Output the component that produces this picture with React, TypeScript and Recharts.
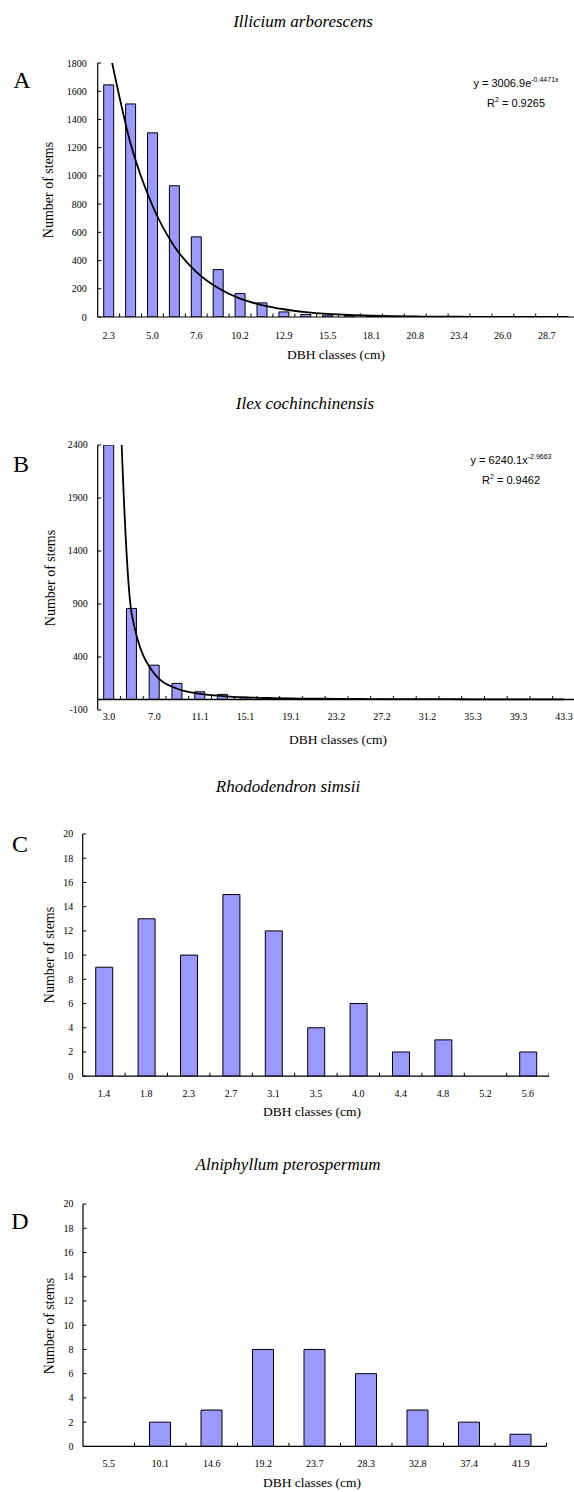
import React from 'react';
import { ComposedChart, Bar, Line, XAxis, YAxis, ReferenceLine } from 'recharts';

const serif = '"Liberation Serif", "Times New Roman", serif';
const sans = '"Liberation Sans", Arial, sans-serif';

// A - Illicium arborescens
const classesA = ['2.3', '3.6', '5.0', '6.3', '7.6', '8.9', '10.2', '11.5', '12.9', '14.2', '15.5', '16.8', '18.1', '19.4', '20.8', '22.1', '23.4', '24.7', '26.0', '27.3', '28.7', '30.0'];
const stemsA = [1645, 1510, 1305, 930, 568, 336, 166, 100, 36, 18, 14, 10, 5, 3, 2, 1, 0, 0, 0, 0, 0, 0];
const trendA = [1920, 1230, 790, 500, 320, 205, 130, 85, 55, 35, 22, 14, 9, 6, 4, 2, 2, 1, 1, 0, 0, 0];
const yTicksA = [0, 200, 400, 600, 800, 1000, 1200, 1400, 1600, 1800];

// B - Ilex cochinchinensis
const classesB = ['3.0', '5.0', '7.0', '9.1', '11.1', '13.1', '15.1', '17.1', '19.1', '21.2', '23.2', '25.2', '27.2', '29.2', '31.2', '33.3', '35.3', '37.3', '39.3', '41.3', '43.3'];
const stemsB = [2400, 858, 323, 151, 72, 47, 20, 12, 8, 4, 2, 1, 1, 0, 0, 0, 0, 0, 0, 0, 0];
const trendB = [6240, 800, 240, 100, 53, 31, 19, 13, 9, 7, 5, 4, 3, 2, 2, 2, 1, 1, 1, 1, 1];
const yTicksB = [-100, 400, 900, 1400, 1900, 2400];

// C - Rhododendron simsii
const classesC = ['1.4', '1.8', '2.3', '2.7', '3.1', '3.5', '4.0', '4.4', '4.8', '5.2', '5.6'];
const stemsC = [9, 13, 10, 15, 12, 4, 6, 2, 3, 0, 2];

// D - Alniphyllum pterospermum
const classesD = ['5.5', '10.1', '14.6', '19.2', '23.7', '28.3', '32.8', '37.4', '41.9'];
const stemsD = [0, 2, 3, 8, 8, 6, 3, 2, 1];

const yTicksCD = [0, 2, 4, 6, 8, 10, 12, 14, 16, 18, 20];

type PanelProps = {
  classes: string[];
  stems: number[];
  trend?: number[];
  top: number;
  left: number;
  plotW: number;
  plotH: number;
  yDomain: [number, number];
  yTicks: number[];
  barSize: number;
  labelEvery: number;
  labelDy: number;
  yGap: number;
  zeroLine?: boolean;
};

function Panel(props: PanelProps) {
  const { classes, stems, trend, top, left, plotW, plotH, yDomain, yTicks, barSize, labelEvery, labelDy, yGap, zeroLine } = props;
  const data = classes.map((c, i) => ({ cls: c, stems: stems[i], trend: trend ? trend[i] : undefined }));
  const band = plotW / classes.length;
  const padTop = 10;
  const xH = 40;
  // B has its category axis on the zero line, above the bottom of the value axis
  const zeroOff = zeroLine ? (plotH * (0 - yDomain[0])) / (yDomain[1] - yDomain[0]) : 0;

  const xTick = (p: any) => {
    const { x, y, payload, index } = p;
    const ty = y - zeroOff;
    return (
      <g>
        <line x1={x + band / 2} x2={x + band / 2} y1={ty} y2={ty - 3.5} stroke="#000" strokeWidth={1} />
        {index % labelEvery === 0 && (
          <text x={x} y={y + labelDy} textAnchor="middle" fontSize={10} fontFamily={serif} fill="#000">
            {payload.value}
          </text>
        )}
      </g>
    );
  };

  const yTick = (p: any) => {
    const { x, y, payload } = p;
    return (
      <g>
        <line x1={x} x2={x + 3.5} y1={y} y2={y} stroke="#000" strokeWidth={1} />
        <text x={x - yGap} y={y} dy="0.35em" textAnchor="end" fontSize={10} fontFamily={serif} fill="#000">
          {payload.value}
        </text>
      </g>
    );
  };

  return (
    <div style={{ position: 'absolute', left: 0, top: top - padTop }}>
      <ComposedChart
        width={left + plotW}
        height={padTop + plotH + xH}
        data={data}
        margin={{ top: padTop, right: 0, bottom: 0, left: 0 }}
      >
        <XAxis
          dataKey="cls"
          interval={0}
          height={xH}
          axisLine={zeroLine ? false : { stroke: '#000', strokeWidth: 1.2 }}
          tickLine={false}
          tickSize={0}
          tickMargin={0}
          tick={xTick}
        />
        <YAxis
          width={left}
          type="number"
          domain={yDomain}
          ticks={yTicks}
          allowDataOverflow
          axisLine={{ stroke: '#000', strokeWidth: 1.2 }}
          tickLine={false}
          tickSize={0}
          tickMargin={0}
          tick={yTick}
        />
        {zeroLine && <ReferenceLine y={0} stroke="#000" strokeWidth={1.5} />}
        <Bar dataKey="stems" fill="#9999ff" stroke="#000" strokeWidth={1} barSize={barSize} isAnimationActive={false} />
        {trend && (
          <Line
            dataKey="trend"
            type="monotone"
            stroke="#000"
            strokeWidth={1.8}
            dot={false}
            activeDot={false}
            isAnimationActive={false}
          />
        )}
      </ComposedChart>
    </div>
  );
}

const abs = (cx: number, cy: number, extra: React.CSSProperties = {}): React.CSSProperties => ({
  position: 'absolute',
  left: cx,
  top: cy,
  transform: 'translate(-50%, -50%)',
  whiteSpace: 'nowrap',
  lineHeight: 1,
  ...extra,
});

function Title({ text, cx, cy }: { text: string; cx: number; cy: number }) {
  return <div style={abs(cx, cy, { fontFamily: serif, fontStyle: 'italic', fontSize: 17 })}>{text}</div>;
}

function Letter({ text, cx, cy }: { text: string; cx: number; cy: number }) {
  return <div style={abs(cx, cy, { fontFamily: serif, fontSize: 24 })}>{text}</div>;
}

function YLabel({ cx, cy }: { cx: number; cy: number }) {
  return (
    <div style={abs(cx, cy, { fontFamily: serif, fontSize: 14, transform: 'translate(-50%, -50%) rotate(-90deg)' })}>
      Number of stems
    </div>
  );
}

function XLabel({ cx, cy }: { cx: number; cy: number }) {
  return <div style={abs(cx, cy, { fontFamily: serif, fontSize: 13.5 })}>DBH classes (cm)</div>;
}

function Equation({ main, sup, r2, cx, cy }: { main: string; sup: string; r2: string; cx: number; cy: number }) {
  return (
    <>
      <div style={abs(cx, cy, { fontFamily: sans, fontSize: 11 })}>
        {main}
        <span style={{ fontSize: 7, verticalAlign: 'super', lineHeight: 0 }}>{sup}</span>
      </div>
      <div style={abs(cx, cy + 20, { fontFamily: sans, fontSize: 11 })}>
        R<span style={{ fontSize: 7, verticalAlign: 'super', lineHeight: 0 }}>2</span> = {r2}
      </div>
    </>
  );
}

export default function App() {
  return (
    <div
      style={{
        position: 'absolute',
        left: 0,
        top: 0,
        width: 574,
        height: 1492,
        overflow: 'hidden',
        background: '#fff',
      }}
    >
      <Title text="Illicium arborescens" cx={303} cy={21} />
      <Letter text="A" cx={22} cy={80} />
      <YLabel cx={49} cy={190} />
      <Panel
        classes={classesA}
        stems={stemsA}
        trend={trendA}
        top={62.7}
        left={97.7}
        plotW={22 * 21.9}
        plotH={254}
        yDomain={[0, 1800]}
        yTicks={yTicksA}
        barSize={10}
        labelEvery={2}
        labelDy={22}
        yGap={11}
      />
      <Equation main="y = 3006.9e" sup="-0.4471x" r2="0.9265" cx={516} cy={83} />
      <XLabel cx={336} cy={355} />

      <Title text="Ilex cochinchinensis" cx={305} cy={403} />
      <Letter text="B" cx={21} cy={464} />
      <YLabel cx={51} cy={578} />
      <Panel
        classes={classesB}
        stems={stemsB}
        trend={trendB}
        top={445}
        left={97.7}
        plotW={21 * 22.75}
        plotH={265}
        yDomain={[-100, 2400]}
        yTicks={yTicksB}
        barSize={10}
        labelEvery={2}
        labelDy={10}
        yGap={10}
        zeroLine
      />
      <Equation main="y = 6240.1x" sup="-2.9663" r2="0.9462" cx={511} cy={460} />
      <XLabel cx={338} cy={740} />

      <Title text="Rhododendron simsii" cx={288} cy={786} />
      <Letter text="C" cx={20} cy={844} />
      <YLabel cx={50} cy={955} />
      <Panel
        classes={classesC}
        stems={stemsC}
        top={834.3}
        left={82.7}
        plotW={11 * 42.4}
        plotH={242.2}
        yDomain={[0, 20]}
        yTicks={yTicksCD}
        barSize={17}
        labelEvery={1}
        labelDy={20.5}
        yGap={9.5}
      />
      <XLabel cx={312} cy={1112} />

      <Title text="Alniphyllum pterospermum" cx={288} cy={1164} />
      <Letter text="D" cx={20} cy={1221} />
      <YLabel cx={50} cy={1326} />
      <Panel
        classes={classesD}
        stems={stemsD}
        top={1204.3}
        left={83}
        plotW={9 * 51.5}
        plotH={242.4}
        yDomain={[0, 20]}
        yTicks={yTicksCD}
        barSize={21}
        labelEvery={1}
        labelDy={21}
        yGap={9.5}
      />
      <XLabel cx={312} cy={1483} />
    </div>
  );
}
